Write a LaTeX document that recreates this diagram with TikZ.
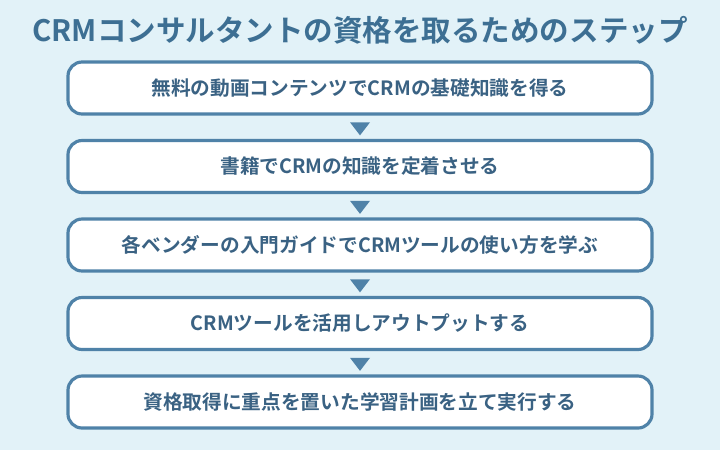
\documentclass[tikz,border=0pt]{standalone}
\usepackage{fontspec}
\setmainfont{Noto Sans CJK JP}[BoldFont={Noto Sans CJK JP Bold}]
\usetikzlibrary{positioning,shapes.geometric,calc}
\definecolor{bgblue}{HTML}{E2F2F8}
\definecolor{titleblue}{HTML}{3D6F93}
\definecolor{lineblue}{HTML}{4F82A8}
\definecolor{textblue}{HTML}{3A6283}

\tikzset{
  stepbox/.style={draw=lineblue,line width=0.9pt,fill=white,rounded corners=4pt,
    minimum width=5.84cm,minimum height=0.52cm,text=textblue,font=\fontsize{5.6pt}{6pt}\selectfont\bfseries},
  downtri/.style={isosceles triangle,shape border rotate=-90,isosceles triangle apex angle=75,
    fill=lineblue,inner sep=0pt,minimum width=0.2cm,minimum height=0.1cm}
}

\begin{document}
\begin{tikzpicture}
\fill[bgblue] (0,0) rectangle (7.2,-4.5);
\useasboundingbox (0,0) rectangle (7.2,-4.5);

\node[text=titleblue,font=\fontsize{8.4pt}{9pt}\selectfont\bfseries] (title) at (3.6,-0.3)
  {CRMコンサルタントの資格を取るためのステップ};

\foreach \i/\txt in {1/無料の動画コンテンツでCRMの基礎知識を得る,
                     2/書籍でCRMの知識を定着させる,
                     3/各ベンダーの入門ガイドでCRMツールの使い方を学ぶ,
                     4/CRMツールを活用しアウトプットする,
                     5/資格取得に重点を置いた学習計画を立て実行する} {
    \node[stepbox] (s\i) at (3.6,{-0.88-0.785*(\i-1)}) {\txt};
}

\foreach \i in {1,...,4} {
    \pgfmathtruncatemacro{\next}{\i+1}
    \node[downtri] (t\i) at ($(s\i.south)!0.5!(s\next.north)$) {};
}
\end{tikzpicture}
\end{document}
